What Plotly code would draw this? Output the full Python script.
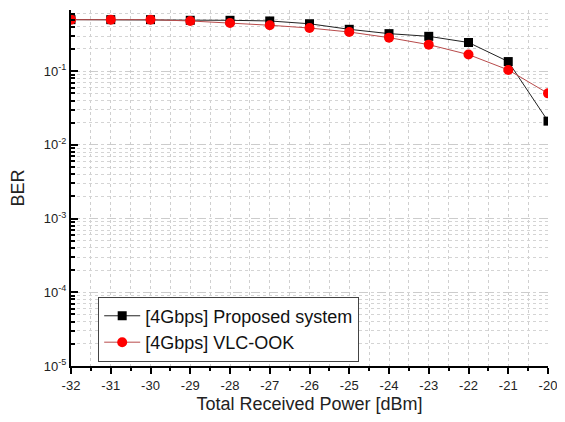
import plotly.graph_objects as go

power_dbm = [-32, -31, -30, -29, -28, -27, -26, -25, -24, -23, -22, -21, -20]
ber_proposed = [0.50, 0.50, 0.50, 0.49, 0.49, 0.48, 0.44, 0.37, 0.323, 0.297, 0.245, 0.135, 0.021]
ber_vlc_ook = [0.50, 0.50, 0.50, 0.48, 0.45, 0.42, 0.385, 0.34, 0.285, 0.229, 0.168, 0.104, 0.050]

series_names = ["[4Gbps] Proposed system", "[4Gbps] VLC-OOK"]
x_ticks = list(range(-32, -19))
y_tickvals = [1e-5, 1e-4, 1e-3, 1e-2, 1e-1]
y_ticktext = ["10<sup>-5</sup>", "10<sup>-4</sup>", "10<sup>-3</sup>", "10<sup>-2</sup>", "10<sup>-1</sup>"]

fig = go.Figure()
fig.add_trace(go.Scatter(
    x=power_dbm, y=ber_proposed, name=series_names[0], mode="lines+markers",
    line=dict(color="#222222", width=1),
    marker=dict(symbol="square", size=9, color="black"),
))
fig.add_trace(go.Scatter(
    x=power_dbm, y=ber_vlc_ook, name=series_names[1], mode="lines+markers",
    line=dict(color="#b84a4a", width=1),
    marker=dict(symbol="circle", size=10, color="red"),
))

font = "Liberation Sans, Arial, sans-serif"
# the page body adds an 8px margin, so the figure is reduced to fit the window
fig.update_layout(
    width=557, height=406,
    margin=dict(l=63, r=17, t=2, b=48),
    paper_bgcolor="white", plot_bgcolor="white",
    font=dict(family=font, size=13, color="#222"),
    showlegend=True,
    legend=dict(
        x=0.057, y=0.195, xanchor="left", yanchor="top",
        bgcolor="white", bordercolor="#444", borderwidth=1,
        font=dict(family=font, size=18, color="#111"),
        tracegroupgap=0, itemwidth=36,
    ),
)
fig.update_xaxes(
    range=[-32, -20], tickvals=x_ticks, ticktext=[str(v) for v in x_ticks],
    automargin=False, ticklabeloverflow="allow",
    showline=True, linecolor="black", linewidth=2,
    ticks="outside", ticklen=6, tickwidth=1.5, tickcolor="black",
    showgrid=True, gridcolor="#cfcfcf", griddash="dot", gridwidth=1,
    minor=dict(dtick=0.5, ticks="outside", ticklen=3, tickcolor="black",
               showgrid=True, gridcolor="#cfcfcf", griddash="dot"),
    zeroline=False,
    tickfont=dict(size=13, color="#222"),
    title=dict(text="Total Received Power [dBm]", font=dict(size=18, color="#222"), standoff=18),
)
fig.update_yaxes(
    type="log", range=[-5, -0.17],
    automargin=False,
    tickvals=y_tickvals, ticktext=y_ticktext,
    showline=True, linecolor="black", linewidth=2,
    ticks="inside", ticklen=7, tickwidth=1.5, tickcolor="black",
    showgrid=True, gridcolor="#cccccc", griddash="dash", gridwidth=1,
    minor=dict(dtick="D1", ticks="inside", ticklen=4, tickcolor="black",
               showgrid=True, gridcolor="#d4d4d4", griddash="dot"),
    zeroline=False,
    tickfont=dict(size=13, color="#222"),
    title=dict(text="BER", font=dict(size=18, color="#222"), standoff=18),
)

fig.write_html("out.html")
